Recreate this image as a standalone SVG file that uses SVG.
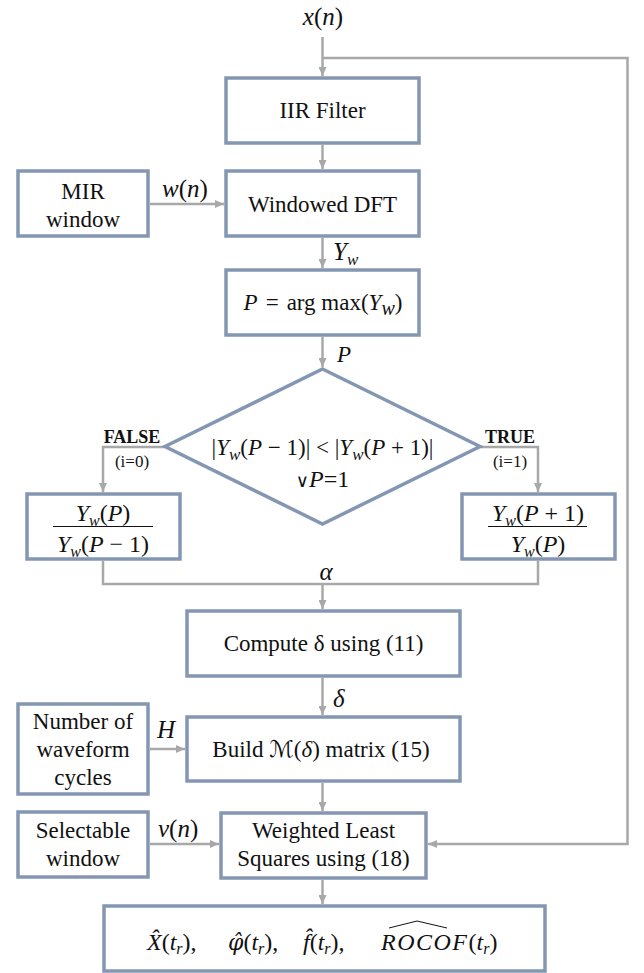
<svg xmlns="http://www.w3.org/2000/svg" width="644" height="973" viewBox="0 0 644 973">
<defs>
<marker id="ah" markerUnits="userSpaceOnUse" markerWidth="9" markerHeight="8" refX="9" refY="4" orient="auto">
<path d="M0,0 L9,4 L0,8 z" fill="#a8a8a8"/>
</marker>
<style>
.box{fill:#fff;stroke:#8397b2;stroke-width:3.5}
.c{fill:none;stroke:#a8a8a8;stroke-width:2.5}
.a{marker-end:url(#ah)}
text{font-family:"Liberation Serif","DejaVu Serif",serif;fill:#111;font-size:23px}
.m{text-anchor:middle}
.i{font-style:italic}
.b{font-weight:bold;font-size:18px}
.s{font-size:17px}
.lab{font-size:25px}
.mt{font-size:24px}
</style>
</defs>
<rect width="644" height="973" fill="#fff"/>
<g id="connectors">
<path class="c a" d="M322.5,37 V76"/>
<path class="c a" d="M322.5,58 H627.5 V844 H428"/>
<path class="c a" d="M322.5,145 V169"/>
<path class="c a" d="M150,204 H224"/>
<path class="c a" d="M322.5,238 V268"/>
<path class="c a" d="M322.5,337 V367"/>
<path class="c a" d="M165,447 H103 V492"/>
<path class="c a" d="M480,447 H538 V492"/>
<path class="c" d="M103,561 V584 H538 V561"/>
<path class="c a" d="M322.5,584 V609"/>
<path class="c a" d="M322.5,678 V715"/>
<path class="c a" d="M150,749 H185"/>
<path class="c a" d="M322.5,783 V811"/>
<path class="c a" d="M150,844 H219"/>
<path class="c a" d="M322.5,880 V904"/>
<text class="m lab" x="323" y="25"><tspan class="i">x</tspan>(<tspan class="i">n</tspan>)</text>
<text class="lab" x="162" y="197"><tspan class="i">w</tspan>(<tspan class="i">n</tspan>)</text>
<text class="lab" x="333" y="260"><tspan class="i">Y</tspan><tspan class="i" font-size="17" dy="5">w</tspan></text>
<text x="337" y="362" class="i" font-size="26">P</text>
<text x="510" y="443" class="b m">TRUE</text>
<text x="510" y="467" class="s m">(i=1)</text>
<text x="132" y="443" class="b m">FALSE</text>
<text x="132" y="467" class="s m">(i=0)</text>
<text x="326" y="580" class="m i lab">α</text>
<text x="333" y="707" class="i lab">δ</text>
<text x="157" y="738" class="i lab">H</text>
<text x="158" y="837" class="lab"><tspan class="i">v</tspan>(<tspan class="i">n</tspan>)</text>
</g>
<g id="iir"><rect class="box" x="226" y="78" width="193" height="65"/><text class="m" x="322.5" y="118">IIR Filter</text></g>
<g id="mir"><rect class="box" x="18" y="171" width="130" height="65"/><text class="m" x="83" y="199">MIR</text><text class="m" x="83" y="227">window</text></g>
<g id="wdft"><rect class="box" x="226" y="171" width="193" height="65"/><text class="m" x="322.5" y="212">Windowed DFT</text></g>
<g id="argmax"><rect class="box" x="226" y="270" width="193" height="65"/><text class="m" x="323" y="310" font-size="30"><tspan class="i">P</tspan><tspan dx="8">=</tspan><tspan dx="8">arg max(</tspan><tspan class="i">Y</tspan><tspan class="i" font-size="20" dy="5">w</tspan><tspan dy="-5">)</tspan></text></g>
<g id="decision"><polygon class="box" points="322.5,369 480,446.5 322.5,524 165,446.5"/>
<text class="m" x="322.5" y="455" font-size="26">|<tspan class="i">Y</tspan><tspan class="i" font-size="17" dy="5">w</tspan><tspan dy="-5">(</tspan><tspan class="i">P</tspan> − 1)| &lt; |<tspan class="i">Y</tspan><tspan class="i" font-size="17" dy="5">w</tspan><tspan dy="-5">(</tspan><tspan class="i">P</tspan> + 1)|</text>
<text class="m mt" x="322.5" y="487"><tspan font-family="DejaVu Sans" font-size="18">∨</tspan><tspan class="i">P</tspan>=1</text></g>
<g id="ratio-false"><rect class="box" x="27" y="494" width="153" height="65"/>
<text class="m mt" x="103" y="521"><tspan class="i">Y</tspan><tspan class="i" font-size="16" dy="5">w</tspan><tspan dy="-5">(</tspan><tspan class="i">P</tspan>)</text>
<line x1="53" y1="526.5" x2="153" y2="526.5" stroke="#111" stroke-width="1.2"/>
<text class="m mt" x="103" y="552"><tspan class="i">Y</tspan><tspan class="i" font-size="16" dy="5">w</tspan><tspan dy="-5">(</tspan><tspan class="i">P</tspan> − 1)</text></g>
<g id="ratio-true"><rect class="box" x="462" y="494" width="153" height="65"/>
<text class="m mt" x="538" y="521"><tspan class="i">Y</tspan><tspan class="i" font-size="16" dy="5">w</tspan><tspan dy="-5">(</tspan><tspan class="i">P</tspan> + 1)</text>
<line x1="488" y1="526.5" x2="587" y2="526.5" stroke="#111" stroke-width="1.2"/>
<text class="m mt" x="538" y="552"><tspan class="i">Y</tspan><tspan class="i" font-size="16" dy="5">w</tspan><tspan dy="-5">(</tspan><tspan class="i">P</tspan>)</text></g>
<g id="compute"><rect class="box" x="187" y="611" width="273" height="65"/><text class="m" x="323.5" y="651">Compute δ using (11)</text></g>
<g id="build"><rect class="box" x="187" y="717" width="273" height="64"/><text class="m" x="321" y="757">Build <tspan font-family="DejaVu Sans" font-style="italic">ℳ</tspan>(<tspan class="i">δ</tspan>) matrix (15)</text></g>
<g id="cycles"><rect class="box" x="18" y="704" width="130" height="90"/><text class="m" x="83" y="729">Number of</text><text class="m" x="83" y="757">waveform</text><text class="m" x="83" y="785">cycles</text></g>
<g id="selwin"><rect class="box" x="18" y="812" width="130" height="65"/><text class="m" x="83" y="838">Selectable</text><text class="m" x="83" y="866">window</text></g>
<g id="wls"><rect class="box" x="221" y="813" width="205" height="65"/><text class="m" x="323.5" y="838">Weighted Least</text><text class="m" x="323.5" y="866">Squares using (18)</text></g>
<g id="output"><rect class="box" x="104" y="906" width="441" height="65"/>
<text y="950" class="mt"><tspan x="147" class="i">X̂</tspan>(<tspan class="i">t</tspan><tspan class="i" font-size="16" dy="4">r</tspan><tspan dy="-4">),</tspan><tspan x="228" class="i" font-family="DejaVu Serif" font-size="22">φ̂</tspan>(<tspan class="i">t</tspan><tspan class="i" font-size="16" dy="4">r</tspan><tspan dy="-4">),</tspan><tspan x="303" class="i">f̂</tspan>(<tspan class="i">t</tspan><tspan class="i" font-size="16" dy="4">r</tspan><tspan dy="-4">),</tspan><tspan x="381" class="i" letter-spacing="1.5">ROCOF</tspan>(<tspan class="i">t</tspan><tspan class="i" font-size="16" dy="4">r</tspan><tspan dy="-4">)</tspan></text>
<path d="M389,928 L417,921 L447,928" fill="none" stroke="#111" stroke-width="1"/></g>
</svg>
